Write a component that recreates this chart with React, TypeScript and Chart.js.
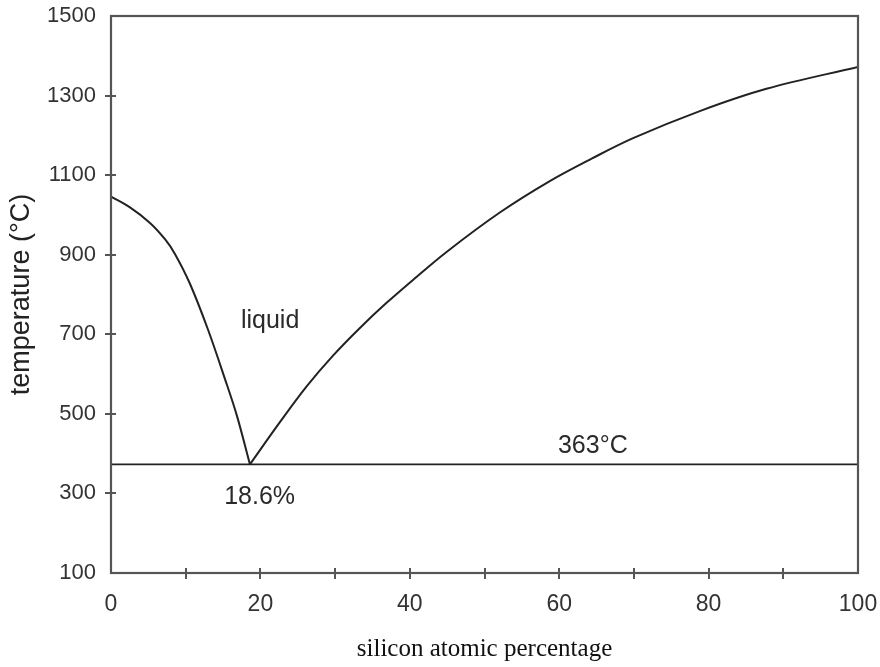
import React, { useEffect, useRef } from "react";
import { Chart, registerables } from "chart.js";
Chart.register(...registerables);

// Liquidus (Au side) - silicon atomic % vs temperature
const leftX = [0, 2.54, 5.22, 7.23, 8.56, 10.57, 12.98, 15.25, 16.86, 18.6];
const leftT = [1046, 1019, 980, 939, 902, 827, 712, 588, 495, 373];
// Liquidus (Si side)
const rightX = [18.6, 22.61, 26.19, 29.75, 33.32, 36.89, 40.45, 44.92, 52.05, 58.74, 64.4, 69.89, 78.82, 87.74, 100];
const rightT = [373, 479, 569, 647, 716, 779, 837, 907, 1006, 1085, 1142, 1193, 1261, 1317, 1372];
// Eutectic line
const eutX = [0, 100];
const eutT = [373, 373];

const xTickLabels = [0, 20, 40, 60, 80, 100];
const xTickMarks = [10, 20, 30, 40, 50, 60, 70, 80, 90];
const yTickLabels = [100, 300, 500, 700, 900, 1100, 1300, 1500];
const yTickMarks = [300, 500, 700, 900, 1100, 1300];

const noteTexts = ["liquid", "18.6%", "363°C"];
const noteX = [21.3, 19.9, 64.5];
const noteT = [733, 291, 419];

const pts = (xs: number[], ys: number[]) => xs.map((x, i) => ({ x, y: ys[i] }));

export default function App() {
  const ref = useRef<HTMLCanvasElement>(null);
  useEffect(() => {
    if (!ref.current) return;
    const framePlugin = {
      id: "frame",
      afterDatasetsDraw(chart: any) {
        const { ctx, chartArea: a, scales } = chart;
        ctx.save();
        ctx.strokeStyle = "#555";
        ctx.lineWidth = 2.2;
        ctx.strokeRect(a.left, a.top, a.right - a.left, a.bottom - a.top);
        ctx.beginPath();
        ctx.lineWidth = 2;
        xTickMarks.forEach((v) => {
          const px = Math.round(scales.x.getPixelForValue(v));
          ctx.moveTo(px, a.bottom - 5);
          ctx.lineTo(px, a.bottom + 6);
        });
        yTickMarks.forEach((v) => {
          const py = Math.round(scales.y.getPixelForValue(v));
          ctx.moveTo(a.left - 6, py);
          ctx.lineTo(a.left + 5, py);
        });
        ctx.stroke();
        ctx.font = "25px 'Liberation Sans', Arial, sans-serif";
        ctx.fillStyle = "#2a2a2a";
        ctx.textAlign = "center";
        ctx.textBaseline = "middle";
        noteTexts.forEach((t, i) => {
          ctx.fillText(t, scales.x.getPixelForValue(noteX[i]), scales.y.getPixelForValue(noteT[i]));
        });
        ctx.restore();
      },
    };
    const line = (data: any) => ({
      data,
      showLine: true,
      borderColor: "#222",
      borderWidth: 2,
      pointRadius: 0,
      tension: 0.35,
      fill: false,
    });
    const chart = new Chart(ref.current, {
      type: "scatter",
      data: {
        datasets: [
          line(pts(leftX, leftT)),
          line(pts(rightX, rightT)),
          { ...line(pts(eutX, eutT)), borderWidth: 1.6, tension: 0 },
        ],
      },
      options: {
        animation: false,
        responsive: false,
        layout: { padding: { top: 16, right: 22, left: 0, bottom: 0 } },
        plugins: { legend: { display: false }, tooltip: { enabled: false } },
        scales: {
          x: {
            type: "linear",
            min: 0,
            max: 100,
            afterBuildTicks: (s: any) => {
              s.ticks = xTickLabels.map((v) => ({ value: v }));
            },
            afterFit: (s: any) => {
              s.height = 94;
              s.paddingLeft = 0;
              s.paddingRight = 0;
            },
            grid: { display: false },
            border: { display: false },
            ticks: {
              font: { family: "'Liberation Sans', Arial, sans-serif", size: 23 },
              color: "#333",
              padding: 10,
              maxRotation: 0,
              callback: (v: any) => String(v),
            },
            title: {
              display: true,
              text: "silicon atomic percentage",
              font: { family: "'Liberation Serif', 'Times New Roman', serif", size: 25 },
              color: "#111",
              padding: { top: 0, bottom: 3 },
            },
          },
          y: {
            type: "linear",
            min: 100,
            max: 1500,
            afterBuildTicks: (s: any) => {
              s.ticks = yTickLabels.map((v) => ({ value: v }));
            },
            afterFit: (s: any) => {
              s.width = 111;
              s.paddingTop = 0;
              s.paddingBottom = 0;
            },
            grid: { display: false },
            border: { display: false },
            ticks: {
              font: { family: "'Liberation Sans', Arial, sans-serif", size: 22 },
              color: "#333",
              padding: 7,
              callback: (v: any) => String(v),
            },
            title: {
              display: true,
              text: "temperature (°C)",
              font: { family: "'Liberation Sans', Arial, sans-serif", size: 27 },
              color: "#222",
              padding: { top: 5, bottom: 0 },
            },
          },
        },
      },
      plugins: [framePlugin],
    });
    return () => chart.destroy();
  }, []);
  return (
    <div style={{ position: "fixed", left: 0, top: 0, width: 880, height: 667, background: "#fff" }}>
      <canvas ref={ref} width={880} height={667} style={{ display: "block" }} />
    </div>
  );
}
